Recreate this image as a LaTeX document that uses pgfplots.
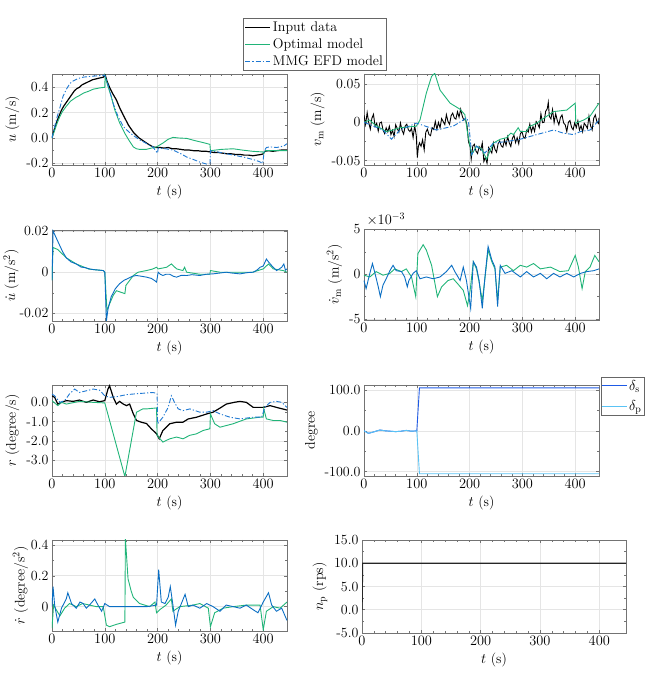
\documentclass[border=0pt]{standalone}
\usepackage{pgfplots}
\pgfplotsset{compat=1.18}
\newcommand{\fs}{\fontsize{14}{16}\selectfont}
\definecolor{optg}{RGB}{32,180,120}
\definecolor{mmgb}{RGB}{30,120,210}
\definecolor{datb}{RGB}{10,110,195}
\definecolor{dsc}{RGB}{30,90,230}
\definecolor{dpc}{RGB}{90,195,245}
\pgfplotsset{
 panel/.style={scale only axis, width=235pt, height=91pt, xmin=0, xmax=445,
   xtick={0,100,200,300,400}, grid=major, major grid style={black!10, line width=0.6pt},
   axis line style={black!55, line width=0.6pt}, tick style={black!55, line width=0.5pt},
   tick align=inside, major tick length=3pt, minor tick length=1.8pt, minor x tick num=4, minor y tick num=1,
   xlabel={$t$ (s)}, tick label style={font=\fs}, label style={font=\fs},
   scaled y ticks=false, anchor=south west},
 longleg/.style={legend image code/.code={\draw[##1] (0pt,0pt) -- (25pt,0pt);}},
 dat/.style={black, line width=1.2pt},
 opt/.style={optg, line width=0.9pt},
 mmg/.style={mmgb, line width=0.9pt, dash pattern=on 5pt off 2pt on 1.2pt off 2pt},
 dd/.style={datb, line width=0.9pt},
 dss/.style={dsc, line width=0.9pt},
 dps/.style={dpc, line width=0.9pt},
}
\begin{document}
\begin{tikzpicture}
\useasboundingbox (0,0) rectangle (648pt,681pt);
% ---------- panel 1 : u ----------
\begin{axis}[panel, longleg, at={(52pt,516pt)}, ymin=-0.213, ymax=0.505,
  ytick={-0.2,0,0.2,0.4}, yticklabels={-0.2,0.0,0.2,0.4}, ylabel={$u$ (m/s)},
  legend style={at={(0.813,1.615)}, anchor=north west, draw=black!60, font=\fs, inner sep=1.5pt, row sep=1.5pt, cells={anchor=west}}]
\addplot[dat] coordinates {(0,0) (3,0.05) (6,0.09) (10,0.14) (14,0.18) (18,0.22) (22,0.25) (27,0.28) (32,0.31) (37,0.34) (42,0.37) (47,0.39) (52,0.40) (57,0.42) (62,0.43) (67,0.44) (72,0.45) (77,0.46) (82,0.465) (87,0.47) (92,0.475) (97,0.48) (100,0.49) (101,0.495) (104,0.45) (109,0.40) (115,0.35) (122,0.30) (128,0.24) (135,0.18) (140,0.14) (145,0.10) (150,0.07) (155,0.04) (160,0.02) (165,0.0) (172,-0.02) (179,-0.04) (185,-0.055) (191,-0.07) (197,-0.075) (205,-0.075) (212,-0.08) (220,-0.075) (228,-0.085) (236,-0.085) (244,-0.09) (252,-0.095) (260,-0.095) (268,-0.10) (276,-0.10) (284,-0.105) (292,-0.105) (300,-0.11) (308,-0.115) (316,-0.115) (324,-0.12) (332,-0.125) (340,-0.125) (348,-0.13) (356,-0.13) (364,-0.135) (372,-0.135) (380,-0.14) (388,-0.135) (396,-0.13) (400,-0.125) (403,-0.105) (410,-0.10) (418,-0.105) (426,-0.10) (434,-0.095) (445,-0.095)};
\addlegendentry{Input data}
\addplot[opt] coordinates {(0,0) (5,0.06) (10,0.12) (15,0.17) (20,0.21) (27,0.25) (35,0.29) (45,0.32) (52,0.335) (60,0.355) (70,0.37) (78,0.385) (90,0.395) (100,0.40) (100.5,0.49) (105,0.42) (112,0.33) (119,0.22) (128,0.12) (138,0.036) (146,-0.02) (154,-0.07) (160,-0.085) (166,-0.09) (178,-0.09) (188,-0.08) (198,-0.07) (210,-0.04) (220,-0.01) (229,0.005) (240,0.0) (255,-0.003) (270,-0.02) (285,-0.035) (299,-0.05) (300,-0.10) (320,-0.09) (343,-0.085) (360,-0.095) (380,-0.105) (399,-0.11) (401,-0.12) (404,-0.10) (420,-0.10) (445,-0.10)};
\addlegendentry{Optimal model}
\addplot[mmg] coordinates {(0,0) (5,0.09) (10,0.17) (15,0.24) (21,0.33) (28,0.39) (34,0.43) (40,0.45) (50,0.47) (59,0.48) (70,0.485) (84,0.49) (100,0.495) (104,0.45) (110,0.36) (116,0.27) (125,0.17) (135,0.09) (145,0.05) (154,0.02) (166,-0.015) (180,-0.045) (191,-0.07) (198,-0.11) (200,-0.12) (201,-0.08) (215,-0.085) (229,-0.095) (242,-0.12) (255,-0.15) (268,-0.17) (280,-0.19) (292,-0.205) (299,-0.22) (300,-0.10) (320,-0.115) (343,-0.135) (362,-0.15) (381,-0.17) (392,-0.185) (399,-0.20) (402,-0.10) (406,-0.075) (413,-0.07) (425,-0.075) (432,-0.07) (440,-0.06) (445,-0.045)};
\addlegendentry{MMG EFD model}
\end{axis}
% ---------- panel 2 : v_m ----------
\begin{axis}[panel, at={(364pt,516pt)}, ymin=-0.0556, ymax=0.063,
  ytick={-0.05,0,0.05}, yticklabels={-0.05,0,0.05}, ylabel={$v_\mathrm{m}$ (m/s)}]
\addplot[dat, line width=0.9pt] coordinates {(0,0.0092) (3,-0.0028) (6,0.0128) (9,-0.0004) (12,-0.0088) (15,0.0056) (18,0.0104) (21,-0.0053) (24,-0.0011) (27,-0.0113) (30,-0.0007) (33,0.0003) (36,-0.0099) (39,-0.0145) (42,-0.0071) (45,-0.0125) (48,-0.0051) (51,-0.016) (54,-0.0104) (57,-0.0184) (60,-0.0032) (63,-0.008) (66,-0.0128) (69,-0.0008) (72,-0.0104) (75,-0.0152) (78,-0.0048) (81,-0.0024) (84,-0.0096) (87,-0.012) (90,-0.0078) (93,-0.0198) (96,-0.0042) (99,-0.0174) (101,-0.0458) (103,-0.0314) (105,-0.0266) (108,-0.0312) (111,-0.0228) (114,-0.036) (117,-0.0129) (120,-0.0088) (123,-0.0159) (126,-0.0174) (129,-0.007) (132,-0.0093) (135,0.0012) (138,-0.0091) (141,-0.0001) (144,-0.0072) (147,0.0049) (150,0.001) (153,-0.0029) (156,0.01) (159,0.0013) (162,-0.0026) (165,0.0087) (168,0.012) (171,0.0057) (174,0.0042) (177,0.0139) (180,0.0068) (183,0.0172) (186,0.0084) (189,0.0028) (192,0.0047) (195,-0.0036) (198,-0.0256) (201,-0.0315) (203,-0.048) (206,-0.031) (209,-0.0286) (212,-0.0374) (215,-0.0406) (218,-0.0318) (221,-0.0358) (224,-0.027) (227,-0.051) (230,-0.0454) (233,-0.0534) (236,-0.0328) (239,-0.0364) (242,-0.04) (245,-0.0268) (248,-0.0352) (251,-0.0389) (254,-0.0277) (257,-0.0244) (260,-0.0308) (263,-0.0324) (266,-0.0227) (269,-0.0299) (272,-0.0186) (275,-0.0266) (278,-0.0314) (281,-0.0209) (284,-0.0169) (287,-0.0264) (290,-0.02) (293,-0.028) (296,-0.0151) (299,-0.0119) (302,-0.0193) (305,-0.0208) (308,-0.0104) (311,-0.0127) (314,-0.0023) (317,-0.0126) (320,-0.0054) (323,-0.0117) (326,0.0011) (329,-0.002) (332,-0.007) (335,0.0112) (338,-0.0004) (341,0.0001) (344,0.0144) (347,0.0177) (349,0.026) (351,0.0078) (354,0.0045) (357,0.0166) (360,-0.0004) (363,0.0112) (366,0.0024) (369,-0.0032) (372,0.0064) (375,0.0096) (378,-0.0008) (381,-0.0032) (384,-0.012) (387,0.0) (390,0.0024) (393,-0.0064) (396,-0.0096) (399,-0.0008) (402,-0.0068) (405,0.002) (408,-0.01) (411,-0.0044) (414,-0.0124) (417,-0.0012) (420,-0.004) (423,-0.0078) (426,0.0079) (429,-0.0043) (432,-0.0099) (435,0.0054) (438,0.0097) (441,0.0008) (444,-0.0015) (445,0.006)};
\addplot[opt] coordinates {(0,0) (11,0.003) (20,-0.003) (42,-0.012) (55,-0.01) (68,-0.007) (99,-0.005) (106,0.003) (118,0.038) (128,0.06) (134,0.064) (144,0.042) (163,0.025) (182,0.017) (191,0.01) (197,-0.018) (204,-0.042) (213,-0.031) (223,-0.035) (232,-0.048) (245,-0.027) (258,-0.022) (270,-0.02) (278,-0.014) (283,-0.016) (292,-0.007) (296,-0.012) (308,-0.012) (312,-0.006) (327,-0.001) (359,0.014) (384,0.016) (400,0.025) (401,-0.001) (416,0.003) (428,0.008) (445,0.025)};
\addplot[mmg] coordinates {(0,0) (11,-0.003) (36,-0.01) (52,-0.022) (68,-0.01) (99,-0.001) (125,-0.007) (137,-0.01) (169,-0.005) (188,0.003) (194,0.006) (198,0.0) (204,-0.042) (213,-0.031) (229,-0.04) (245,-0.027) (270,-0.025) (296,-0.022) (327,-0.016) (359,-0.01) (377,-0.014) (397,-0.016) (410,-0.012) (428,-0.01) (445,0.003)};
\end{axis}
% ---------- panel 3 : u dot ----------
\begin{axis}[panel, at={(52pt,360pt)}, ymin=-0.0237, ymax=0.0205,
  ytick={-0.02,0,0.02}, yticklabels={-0.02,0,0.02}, ylabel={$\dot{u}$ (m/s$^2$)}, ylabel shift=-6pt]
\addplot[opt] coordinates {(0,-0.004) (2,0.012) (11,0.011) (27,0.007) (46,0.004) (70,0.0015) (97,0.0008) (100,0) (104,-0.0184) (116,-0.0112) (122,-0.009) (138,-0.0104) (140,-0.0064) (154,-0.0016) (163,0) (179,0.0008) (190,0.0015) (198,0.0024) (201,0.0016) (217,0.0024) (226,0.004) (236,0.0016) (248,0.0008) (251,0.0024) (255,0) (280,-0.001) (299,-0.001) (300,0.0008) (318,0) (360,0) (380,0) (400,0.0016) (410,0.004) (419,0.0016) (438,0.0008) (445,0)};
\addplot[dd] coordinates {(0,-0.004) (2,0.02) (11,0.015) (20,0.01) (27,0.007) (36,0.005) (46,0.004) (55,0.0025) (63,0.0022) (71,0.0016) (80,0.0012) (90,0.001) (97,0.0008) (100,0) (103,-0.0237) (106,-0.018) (112,-0.012) (120,-0.008) (128,-0.0056) (136,-0.004) (144,-0.003) (152,-0.002) (160,-0.0016) (170,-0.002) (179,-0.0024) (188,-0.003) (194,-0.004) (198,-0.0048) (201,0) (205,-0.001) (210,-0.0016) (216,-0.001) (223,-0.001) (230,-0.002) (236,-0.0024) (245,-0.0015) (255,-0.0016) (265,-0.0012) (280,-0.0016) (292,-0.001) (305,-0.0008) (318,-0.0004) (330,0) (340,-0.0004) (356,-0.0008) (370,-0.0002) (381,0) (388,0.001) (394,0.0024) (400,0.003) (406,0.0064) (410,0.005) (416,0.0032) (425,0.0008) (430,0.0015) (435,0.0024) (439,0.004) (442,0.001) (445,0.0016)};
\end{axis}
% ---------- panel 4 : v_m dot ----------
\begin{axis}[panel, clip=false, at={(364pt,361pt)}, ymin=-5.1, ymax=5.05,
  ytick={-5,0,5}, yticklabels={-5,0,5}, ylabel={$\dot{v}_\mathrm{m}$ (m/s$^2$)}]
\addplot[opt] coordinates {(0,-0.1) (11,-0.3) (23,0.3) (36,-0.1) (49,0.1) (58,0.6) (71,0.3) (80,0.6) (90,-0.3) (98,-2.5) (102,2.3) (112,3.3) (118,2.7) (128,1.0) (139,-2.5) (147,-1.4) (159,-0.7) (169,-0.5) (178,-1.1) (188,-1.8) (196,-3.5) (201,-1.8) (207,1.4) (213,0.6) (218,-0.9) (224,-2.9) (229,-0.5) (235,2.7) (242,1.4) (248,0.6) (253,-2.9) (258,0.8) (270,1.0) (283,0.4) (296,1.0) (308,0.8) (321,1.2) (334,0.6) (353,0.8) (371,0.3) (387,0.4) (400,2.1) (406,0.8) (413,-1.6) (419,0.3) (428,0.8) (437,2.1) (445,1.4)};
\addplot[dd] coordinates {(0,-0.7) (4,-1.6) (11,0.1) (16,1.2) (20,0.3) (27,-1.4) (31,-2.5) (36,-1.2) (42,-0.5) (49,0.4) (55,1.0) (61,0.4) (71,0.3) (77,-0.3) (82,-1.4) (85,-0.7) (93,0.1) (99,0.4) (106,-0.5) (118,-0.3) (131,-0.5) (144,-0.3) (156,0.3) (166,1.0) (172,0.3) (182,-0.7) (188,0.8) (194,-0.7) (202,-3.8) (207,1.4) (213,0.8) (218,-0.7) (224,-3.8) (229,-0.3) (235,3.1) (242,1.6) (248,0.8) (253,-3.6) (258,1.0) (267,0.1) (280,0.4) (296,-0.3) (308,0.3) (321,-0.3) (334,0.1) (346,-0.5) (359,0.1) (371,-0.3) (384,0.1) (397,-0.3) (410,0.1) (422,0.3) (435,0.4) (445,0.6)};
\node[anchor=south west, font=\fs, inner sep=0pt] at (rel axis cs:0.01,1.03) {$\times10^{-3}$};
\end{axis}
% ---------- panel 5 : r ----------
\begin{axis}[panel, at={(52pt,205pt)}, ymin=-3.82, ymax=0.9,
  ytick={-3,-2,-1,0}, yticklabels={-3.0,-2.0,-1.0,0.0}, ylabel={$r$ (degree/s)}]
\addplot[dat] coordinates {(0,0.34) (5,0.26) (11,-0.09) (18,0) (27,0.09) (40,0.05) (52,0.12) (65,0) (78,0.12) (90,0.03) (100,0.09) (106,0.69) (109,0.86) (116,0.26) (122,-0.09) (128,0.05) (135,-0.09) (141,-0.17) (147,-0.09) (154,-0.6) (160,-0.94) (169,-1.03) (179,-1.1) (188,-1.37) (198,-1.63) (203,-1.89) (210,-1.46) (223,-1.11) (236,-1.03) (248,-1.03) (258,-0.86) (274,-0.77) (293,-0.6) (305,-0.51) (318,-0.3) (330,-0.09) (345,0.0) (356,0.05) (368,0) (381,-0.26) (400,-0.26) (413,-0.17) (425,-0.26) (445,-0.4)};
\addplot[opt] coordinates {(0,0.09) (11,-0.17) (18,0) (27,-0.09) (52,0.05) (78,0) (100,-0.03) (138,-3.85) (160,-0.51) (172,-0.34) (179,-0.34) (198,-0.29) (199,-1.71) (210,-2.06) (223,-1.89) (236,-1.8) (248,-1.89) (261,-1.71) (274,-1.63) (286,-1.46) (299,-1.37) (300,-0.6) (308,-1.11) (318,-1.29) (343,-1.11) (368,-0.86) (394,-0.77) (400,-0.77) (401,-0.34) (406,-0.86) (419,-0.94) (432,-0.94) (445,-1.03)};
\addplot[mmg] coordinates {(0,0.43) (5,0.34) (15,0) (24,0.09) (33,0.43) (43,0.69) (52,0.51) (65,0.6) (78,0.69) (90,0.63) (100,0.34) (109,0.26) (122,0.29) (141,0.4) (166,0.46) (191,0.51) (199,0.46) (200,-1.11) (210,-0.77) (220,-0.26) (226,0.34) (232,0) (239,-0.34) (248,-0.43) (261,-0.34) (280,-0.51) (293,-0.51) (305,-0.43) (318,-0.6) (337,-0.77) (356,-0.86) (381,-0.77) (397,-0.77) (403,-0.26) (413,0) (425,0.05) (435,0) (445,-0.26)};
\end{axis}
% ---------- panel 6 : rudder angles ----------
\begin{axis}[panel, at={(364pt,205pt)}, ymin=-110.5, ymax=112,
  ytick={-100,0,100}, yticklabels={-100.0,0.0,100.0}, ylabel={degree},
  line legend, legend image post style={xscale=1.45},
  legend style={at={(1.008,1.088)}, anchor=north west, draw=black!60, font=\fs, inner xsep=0.5pt, inner ysep=1pt, row sep=5pt, cells={anchor=west}}]
\addplot[dss] coordinates {(0,0) (3,-2) (8,-6) (12,-5) (20,-2) (30,2) (40,0) (50,-1) (60,-2) (70,-1) (80,1) (90,-1) (100,0) (105,105) (445,105)};
\addlegendentry{$\delta_\mathrm{s}$}
\addplot[dps] coordinates {(0,0) (3,-2) (8,-6) (12,-5) (20,-2) (30,2) (40,0) (50,-1) (60,-2) (70,-1) (80,1) (90,-1) (100,0) (105,-105) (445,-105)};
\addlegendentry{$\delta_\mathrm{p}$}
\end{axis}
% ---------- panel 7 : r dot ----------
\begin{axis}[panel, at={(52pt,50pt)}, ymin=-0.158, ymax=0.432,
  ytick={0,0.2,0.4}, yticklabels={0,0.2,0.4}, ylabel={$\dot{r}$ (degree/s$^2$)}, ylabel shift=-4pt]
\addplot[opt] coordinates {(0,-0.14) (3,0.01) (8,-0.02) (15,-0.06) (24,-0.01) (33,0.02) (46,0) (58,0.02) (71,0.01) (84,0.0) (97,0) (103,-0.12) (109,-0.13) (122,-0.115) (138,-0.1) (139,0.44) (144,0.18) (150,0.1) (154,0.06) (166,0.02) (185,0) (195,0.03) (198,-0.04) (204,-0.02) (216,0.01) (226,0.05) (229,-0.03) (242,0) (267,0.01) (280,0.02) (296,-0.01) (300,-0.13) (308,-0.04) (324,-0.01) (343,0) (368,0.01) (394,0.01) (400,-0.15) (406,-0.03) (419,0) (432,-0.01) (445,0.03)};
\addplot[dd] coordinates {(0,0) (2,0.13) (5,0.01) (11,-0.1) (18,-0.01) (27,0.05) (30,0.09) (37,0.02) (46,-0.01) (53,0.03) (59,0.02) (65,-0.01) (71,0.01) (81,0.05) (87,0.01) (94,-0.03) (100,0.02) (109,0) (128,0) (154,0) (180,0) (198,0.01) (202,0.24) (207,0.03) (214,0.02) (220,0.06) (224,0.13) (229,0.01) (234,-0.12) (239,-0.03) (245,0.02) (252,0.08) (258,0) (267,0.01) (280,-0.01) (293,0.02) (305,0) (318,-0.03) (330,0.01) (343,0) (356,-0.01) (368,0.01) (381,-0.02) (390,-0.04) (400,0.03) (410,0.09) (416,0.01) (425,-0.03) (435,-0.01) (440,-0.05) (445,-0.09)};
\end{axis}
% ---------- panel 8 : n_p ----------
\begin{axis}[panel, at={(362pt,48pt)}, width=264pt, height=93pt, ymin=-5, ymax=15,
  ytick={-5,0,5,10,15}, yticklabels={-5.0,0.0,5.0,10.0,15.0}, ylabel={$n_\mathrm{p}$ (rps)}]
\addplot[black!85, line width=1.3pt] coordinates {(0,0) (1,10) (445,10)};
\end{axis}
\end{tikzpicture}
\end{document}
